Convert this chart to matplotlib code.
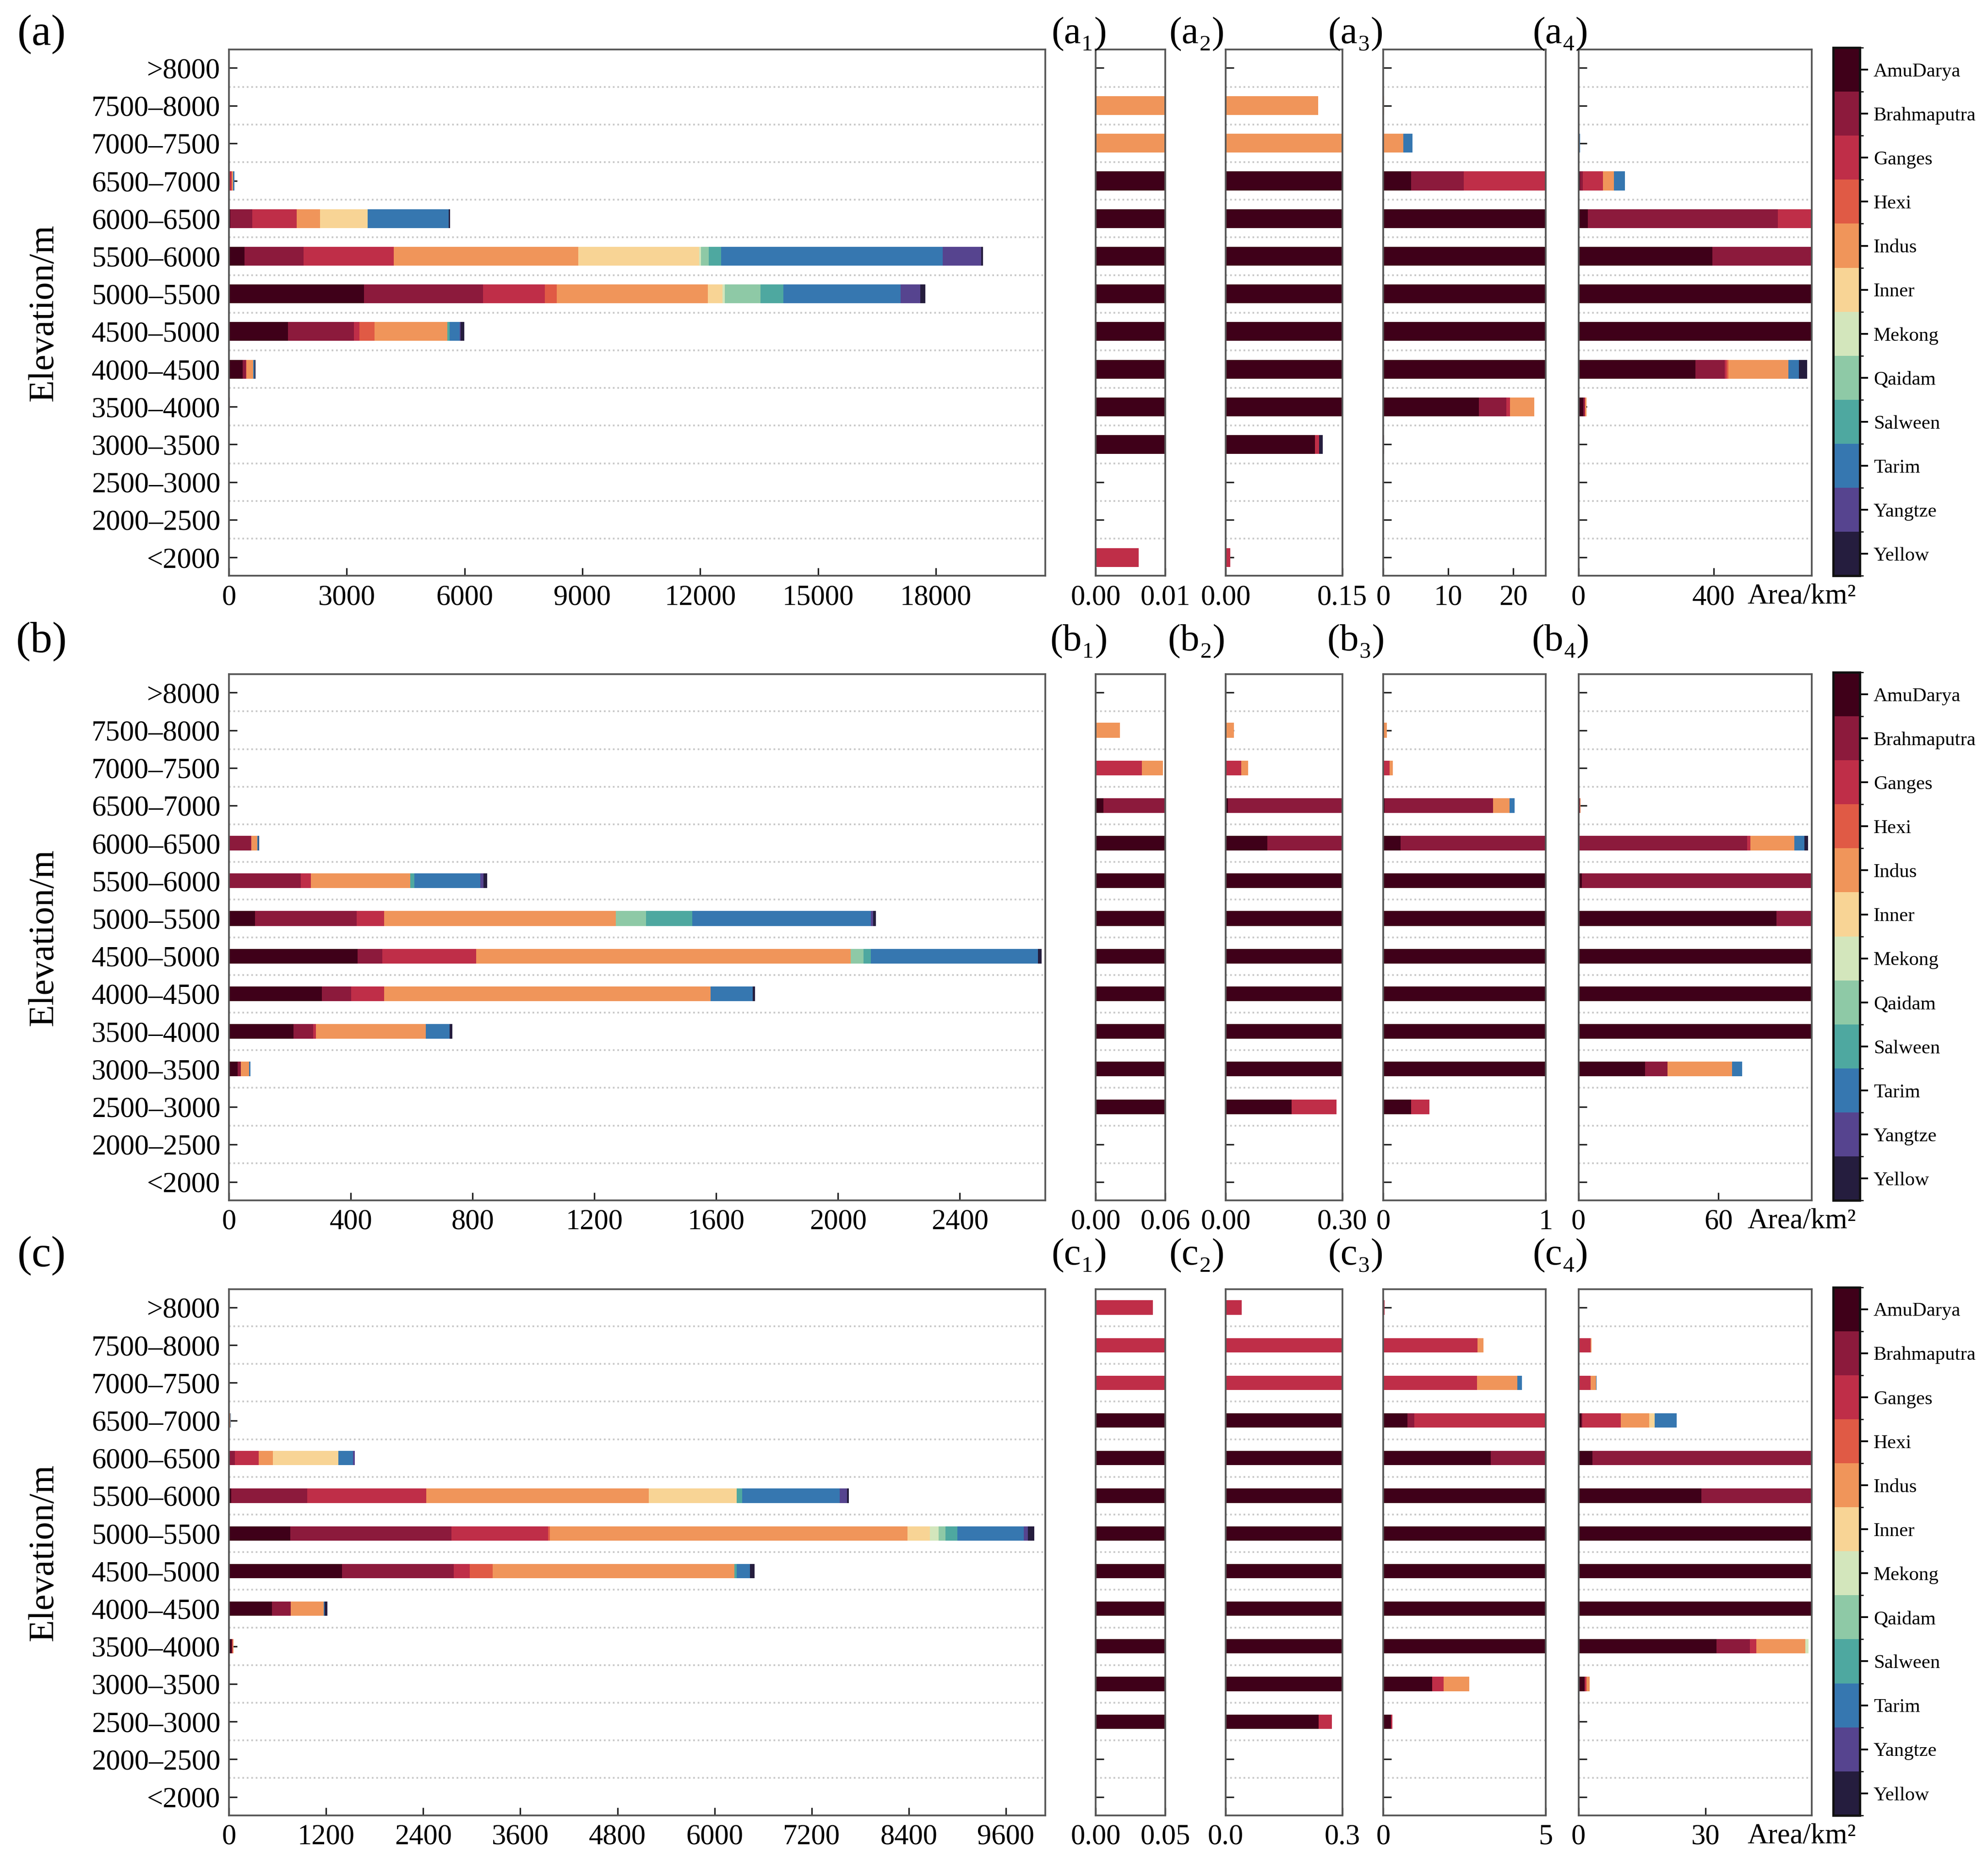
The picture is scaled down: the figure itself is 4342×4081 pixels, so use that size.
import numpy as np
import matplotlib
matplotlib.use("Agg")
import matplotlib.pyplot as plt
from matplotlib.colors import ListedColormap, BoundaryNorm
from matplotlib.cm import ScalarMappable

plt.rcParams['font.family'] = ['Liberation Serif', 'DejaVu Serif']

# elevation bands, top row first
elev = [">8000", "7500–8000", "7000–7500", "6500–7000", "6000–6500", "5500–6000",
        "5000–5500", "4500–5000", "4000–4500", "3500–4000", "3000–3500",
        "2500–3000", "2000–2500", "<2000"]

basins = ["AmuDarya", "Brahmaputra", "Ganges", "Hexi", "Indus", "Inner",
          "Mekong", "Qaidam", "Salween", "Tarim", "Yangtze", "Yellow"]
colors = ["#3f0019", "#8c1a3c", "#bf2e48", "#e05a45", "#f0955a", "#f8d495",
          "#d3e6bc", "#8ec9a6", "#4ea8a0", "#3677b0", "#56448f", "#251d3e"]

# area (km2) per band (rows as elev) and basin (columns as basins)
area_a = [
    [0, 0, 0, 0, 0, 0, 0, 0, 0, 0, 0, 0],
    [0, 0, 0, 0, 0.119, 0, 0, 0, 0, 0, 0, 0],
    [0, 0, 0, 0, 3.1, 0, 0, 0, 0, 1.4, 0, 0],
    [4.25, 8.1, 60, 0, 32.6, 0, 0, 0, 0, 32.6, 0, 0],
    [28, 562, 1129, 0, 595, 1219, 0, 0, 0, 2057, 0, 41],
    [396, 1499, 2301, 0, 4697, 3085, 40, 204, 311, 5644, 975, 54],
    [3438, 3032, 1570, 311, 3844, 379, 54, 907, 582, 2991, 501, 122],
    [1502, 1679, 135, 393, 1854, 0, 0, 0, 54, 257, 20, 100],
    [346, 87, 5, 6, 177, 0, 0, 0, 0, 31, 0, 24],
    [14.7, 4.2, 0.6, 0, 3.7, 0, 0, 0, 0, 0, 0, 0],
    [0.115, 0, 0.005, 0, 0, 0, 0, 0, 0, 0, 0, 0.005],
    [0, 0, 0, 0, 0, 0, 0, 0, 0, 0, 0, 0],
    [0, 0, 0, 0, 0, 0, 0, 0, 0, 0, 0, 0],
    [0, 0, 0.0062, 0, 0, 0, 0, 0, 0, 0, 0, 0],
]
area_b = [
    [0, 0, 0, 0, 0, 0, 0, 0, 0, 0, 0, 0],
    [0, 0, 0, 0, 0.021, 0, 0, 0, 0, 0, 0, 0],
    [0, 0, 0.040, 0, 0.018, 0, 0, 0, 0, 0, 0, 0],
    [0.0066, 0.67, 0, 0, 0.10, 0, 0, 0, 0, 0.03, 0, 0],
    [0.107, 72.3, 1.4, 0, 18.8, 0, 0, 0, 0, 4.3, 0, 1.5],
    [1.5, 234, 33, 0, 326, 0, 0, 0, 14, 216, 11, 12],
    [85, 334, 90, 0, 761, 0, 0, 100, 151, 587, 7, 10],
    [422, 82, 307, 0, 1230, 0, 0, 42, 25, 549, 0, 11],
    [305, 96, 108, 0, 1072, 0, 0, 0, 0, 139, 0, 7],
    [211, 65, 10, 0, 360, 0, 0, 0, 0, 78, 0, 9],
    [28.5, 9.6, 0, 0, 27.7, 0, 0, 0, 0, 4.3, 0, 0],
    [0.17, 0, 0.115, 0, 0, 0, 0, 0, 0, 0, 0, 0],
    [0, 0, 0, 0, 0, 0, 0, 0, 0, 0, 0, 0],
    [0, 0, 0, 0, 0, 0, 0, 0, 0, 0, 0, 0],
]
area_c = [
    [0, 0, 0.041, 0, 0, 0, 0, 0, 0, 0, 0, 0],
    [0, 0, 2.9, 0, 0.18, 0, 0, 0, 0, 0, 0, 0],
    [0, 0, 2.88, 0, 1.24, 0, 0, 0, 0, 0.14, 0, 0],
    [0.75, 0.21, 9.0, 0, 6.7, 1.3, 0, 0, 0, 5.2, 0, 0],
    [3.3, 69, 296, 0, 171, 814, 0, 0, 0, 178, 26, 0],
    [29, 937, 1471, 0, 2753, 1083, 0, 0, 66, 1209, 92, 20],
    [755, 1991, 1195, 27, 4414, 282, 106, 85, 145, 821, 52, 79],
    [1399, 1380, 197, 282, 2989, 0, 0, 0, 26, 165, 0, 59],
    [532, 230, 0, 0, 407, 0, 0, 0, 0, 10, 0, 36],
    [32.5, 7.9, 1.5, 0, 11.6, 0, 0.8, 0, 0, 0, 0, 0],
    [1.5, 0, 0.35, 0, 0.8, 0, 0, 0, 0, 0, 0, 0],
    [0.239, 0, 0.034, 0, 0, 0, 0, 0, 0, 0, 0, 0],
    [0, 0, 0, 0, 0, 0, 0, 0, 0, 0, 0, 0],
    [0, 0, 0, 0, 0, 0, 0, 0, 0, 0, 0, 0],
]

main_lim = [20785, 2680, 10085]
main_ticks = [np.arange(0, 18001, 3000), np.arange(0, 2401, 400), np.arange(0, 9601, 1200)]
sub_lims = [[0.01, 0.15, 25, 690], [0.06, 0.30, 1, 100], [0.05, 0.3, 5, 55]]
sub_ticks = [[[0, 0.01], [0, 0.15], [0, 10, 20], [0, 400]],
             [[0, 0.06], [0, 0.30], [0, 1], [0, 60]],
             [[0, 0.05], [0, 0.3], [0, 5], [0, 30]]]
sub_labels = [[["0.00", "0.01"], ["0.00", "0.15"], ["0", "10", "20"], ["0", "400"]],
              [["0.00", "0.06"], ["0.00", "0.30"], ["0", "1"], ["0", "60"]],
              [["0.00", "0.05"], ["0.0", "0.3"], ["0", "5"], ["0", "30"]]]
letters = ["a", "b", "c"]
subs = ["₁", "₂", "₃", "₄"]
bar_h = [0.5, 0.39, 0.38]

fig = plt.figure(figsize=(4342 / 300, 4081 / 300), dpi=300)

bottoms = [0.6919, 0.3577, 0.0287]
ph = 0.2816
label_y = [0.9816, 0.6567, 0.3283]
sub_x = [(0.5511, 0.5862), (0.6165, 0.6752), (0.6958, 0.7776), (0.7940, 0.9113)]
sub_lab_x = [0.5428, 0.602, 0.682, 0.785]

ypos = np.arange(len(elev))[::-1]


def draw_stack(ax, data, h):
    data = np.array(data, dtype=float)
    left = np.zeros(len(elev))
    for j in range(len(basins)):
        ax.barh(ypos, data[:, j], left=left, height=h, color=colors[j],
                linewidth=0, zorder=2)
        left += data[:, j]
    for y in np.arange(0.5, len(elev) - 1, 1.0):
        ax.axhline(y, color="#c8c8c8", ls=(0, (1, 1.6)), lw=0.9, zorder=1)
    ax.set_ylim(-0.49, len(elev) - 0.51)
    ax.set_yticks(ypos)
    ax.tick_params(direction="in", length=4.2, width=0.8, labelsize=15, pad=4.5,
                   top=False, right=False, color="#222222")
    for s in ax.spines.values():
        s.set_color("#555555")
        s.set_linewidth(0.9)


for p, data in enumerate([area_a, area_b, area_c]):
    b0 = bottoms[p]
    ax = fig.add_axes([0.1152, b0, 0.5257 - 0.1152, ph])
    draw_stack(ax, data, bar_h[p])
    ax.set_xlim(0, main_lim[p])
    ax.set_xticks(main_ticks[p])
    ax.set_xticklabels([str(t) for t in main_ticks[p]])
    ax.set_yticklabels(elev)
    fig.text(0.0223, b0 + ph / 2, "Elevation/m", fontsize=19, rotation=90,
             ha="center", va="center")
    fig.text(0.021, label_y[p], "(" + letters[p] + ")", fontsize=23,
             ha="center", va="center")

    for k in range(4):
        x0, x1 = sub_x[k]
        sax = fig.add_axes([x0, b0, x1 - x0, ph])
        draw_stack(sax, data, bar_h[p])
        sax.set_xlim(0, sub_lims[p][k])
        sax.set_xticks(sub_ticks[p][k])
        sax.set_xticklabels(sub_labels[p][k])
        sax.tick_params(labelleft=False)
        fig.text(sub_lab_x[k], label_y[p], "(" + letters[p] + subs[k] + ")",
                 fontsize=20, ha="center", va="center")

    fig.text(0.879, b0 - 0.0148, "Area/km²", fontsize=15, ha="left", va="baseline")

    # discrete colour bar of basins, AmuDarya on top
    cax = fig.add_axes([0.9222, b0, 0.9354 - 0.9222, ph + 0.001])
    cmap = ListedColormap(colors[::-1])
    norm = BoundaryNorm(np.arange(len(basins) + 1), cmap.N)
    cb = fig.colorbar(ScalarMappable(norm=norm, cmap=cmap), cax=cax,
                      ticks=np.arange(len(basins)) + 0.5)
    cb.ax.set_yticklabels(basins[::-1])
    cb.ax.tick_params(labelsize=10.3, length=4.3, width=0.9, direction="out", pad=3)
    cb.outline.set_linewidth(1.2)
    cb.outline.set_edgecolor("#111111")

fig.savefig("out.png", dpi=300)
